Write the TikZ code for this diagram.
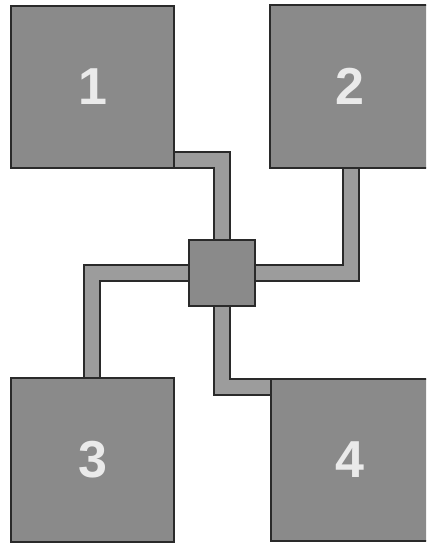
\documentclass[tikz,border=0pt]{standalone}
\usepackage{fontspec}
\setmainfont{Liberation Sans}
\usetikzlibrary{backgrounds}
\definecolor{boxgray}{HTML}{8A8A8A}
\definecolor{pipegray}{HTML}{9C9C9C}
\definecolor{edgegray}{HTML}{2A2A2A}
\definecolor{digit}{HTML}{EAEAEA}
\begin{document}
\begin{tikzpicture}[x=1pt,y=-1pt,
  bigbox/.style={draw=edgegray,line width=1.8pt,fill=boxgray,inner sep=0pt,
    font=\fontsize{52}{52}\selectfont\bfseries,text=digit},
  hubbox/.style={draw=edgegray,line width=1.8pt,fill=boxgray,inner sep=0pt,
    minimum width=66pt,minimum height=66pt},
  pipeout/.style={draw=edgegray,line width=18pt,line join=miter,line cap=butt},
  pipein/.style={draw=pipegray,line width=14.4pt,line join=miter,line cap=butt}]
\clip (0,0) rectangle (426,545);
\node[bigbox,minimum width=163pt,minimum height=162.5pt] (b1) at (92.5,87) {1};
\node[bigbox,minimum width=160pt,minimum height=163pt] (b2) at (350,86.5) {2};
\node[bigbox,minimum width=163pt,minimum height=164pt] (b3) at (92.5,460) {3};
\node[bigbox,minimum width=157pt,minimum height=162pt] (b4) at (349.5,460) {4};
\node[hubbox] (c) at (222,273) {};
\begin{scope}[on background layer]
  \fill[white] (0,0) rectangle (426,545);
  \foreach \s in {pipeout,pipein}{
    \draw[\s] ([xshift=-10pt,yshift=9pt]b1.south east) -| (c.center);
    \draw[\s] ([xshift=82pt,yshift=10pt]b2.south west) |- (c.center);
    \draw[\s] ([xshift=82pt,yshift=-10pt]b3.north west) |- (c.center);
    \draw[\s] ([xshift=14pt,yshift=-9pt]b4.north west) -| (c.center);
  }
\end{scope}
\end{tikzpicture}
\end{document}
